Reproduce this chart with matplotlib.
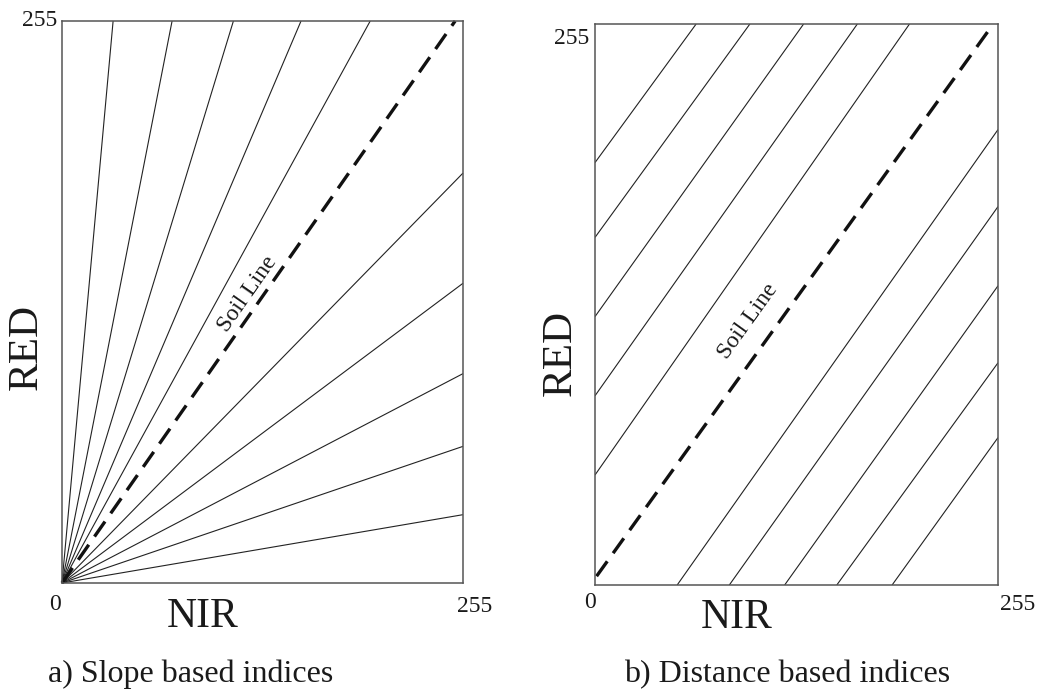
import numpy as np
import matplotlib
matplotlib.use("Agg")
import matplotlib.pyplot as plt

# ---------------- data ----------------
AX_MAX = 255
# a) slope based: rays from origin, end points (NIR, RED)
ray_end_nir = [32.5, 70, 109, 152, 196, 255, 255, 255, 255, 255]
ray_end_red = [255, 255, 255, 255, 255, 186, 136, 95, 62, 31]
soil_a_nir = [0, 250]
soil_a_red = [0, 255]

# b) distance based: parallel lines (start -> end)
upper_start_red = [192, 158, 122, 86, 50]     # at NIR = 0
upper_end_nir = [64, 98, 132, 166, 199]       # at RED = 255
lower_start_nir = [52, 85, 120, 153, 188]     # at RED = 0
lower_end_red = [207, 172, 136, 101, 67]      # at NIR = 255
soil_b_nir = [1, 252]
soil_b_red = [4, 255]

tick_labels = ["0", "255"]
x_label = "NIR"
y_label = "RED"
captions = ["a) Slope based indices", "b) Distance based indices"]
soil_text = "Soil Line"

# ---------------- figure ----------------
W, H = 1040, 694
fig = plt.figure(figsize=(W / 100, H / 100), dpi=100)
fig.patch.set_facecolor("white")
SERIF = ["Liberation Serif", "DejaVu Serif"]
TXT = "#1a1a1a"

def px_rect(x0, y0, x1, y1):
    return [x0 / W, 1 - y1 / H, (x1 - x0) / W, (y1 - y0) / H]

axA = fig.add_axes(px_rect(62, 21, 463, 583))
axB = fig.add_axes(px_rect(595, 24, 998, 585))

for ax in (axA, axB):
    ax.set_xlim(0, AX_MAX)
    ax.set_ylim(0, AX_MAX)
    ax.set_xticks([])
    ax.set_yticks([])
    for s in ax.spines.values():
        s.set_color("#555555")
        s.set_linewidth(1.1)

thin = dict(color="#222222", lw=0.8, solid_capstyle="butt")
dash = dict(color="#111111", lw=2.4, linestyle=(0, (5.5, 3.0)), dash_capstyle="butt")

# panel a
for xe, ye in zip(ray_end_nir, ray_end_red):
    axA.plot([0, xe], [0, ye], **thin, clip_on=False)
axA.plot(soil_a_nir, soil_a_red, **dash, clip_on=False)

# panel b
for r0, xe in zip(upper_start_red, upper_end_nir):
    axB.plot([0, xe], [r0, AX_MAX], **thin)
for x0, re in zip(lower_start_nir, lower_end_red):
    axB.plot([x0, AX_MAX], [0, re], **thin)
axB.plot(soil_b_nir, soil_b_red, **dash)

fig.canvas.draw()

def screen_angle(ax, xs, ys):
    p = ax.transData.transform(np.column_stack([xs, ys]))
    return np.degrees(np.arctan2(p[1, 1] - p[0, 1], p[1, 0] - p[0, 0]))

def put(xpx, ypx, s, size, **kw):
    fig.text(xpx / W, 1 - ypx / H, s, fontsize=size, family=SERIF, color=TXT,
             ha=kw.pop("ha", "center"), va=kw.pop("va", "center"), **kw)

# soil line labels
angA = screen_angle(axA, soil_a_nir, soil_a_red)
angB = screen_angle(axB, soil_b_nir, soil_b_red)
put(248, 294, soil_text, 17, rotation=angA, rotation_mode="anchor")
put(748, 321, soil_text, 17, rotation=angB, rotation_mode="anchor")

# tick labels
put(40, 21, tick_labels[1], 17)
put(55, 605, tick_labels[0], 17)
put(475, 607, tick_labels[1], 17)
put(572, 38, tick_labels[1], 17)
put(590, 603, tick_labels[0], 17)
put(1018, 605, tick_labels[1], 17)

# axis labels
put(203, 617, x_label, 30)
put(737, 618, x_label, 30)
put(27, 347, y_label, 31, rotation=90)
put(560, 353, y_label, 31, rotation=90)

# captions
put(191, 674, captions[0], 23)
put(787, 675, captions[1], 23)

fig.savefig("out.png", dpi=100, facecolor="white")
